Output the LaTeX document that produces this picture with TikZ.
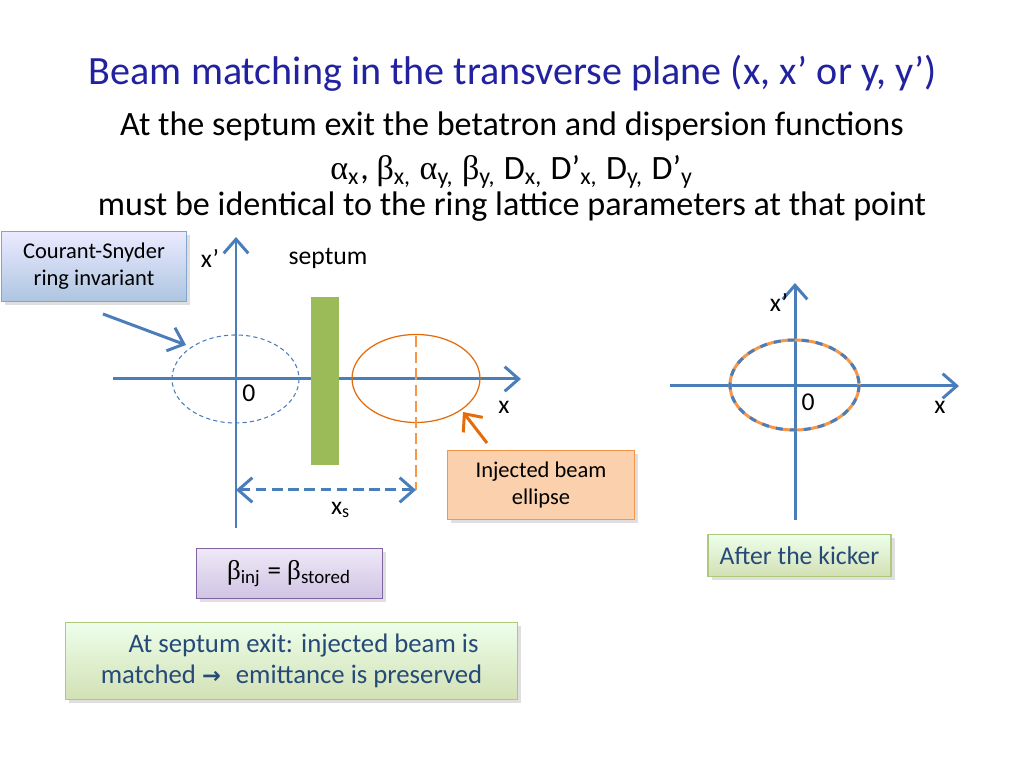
\documentclass[tikz,border=0pt]{standalone}
\usepackage{fontspec}
\setmainfont{Carlito}
\newfontfamily\grk{Liberation Serif}
\newfontfamily\symfnt{DejaVu Sans}
\usepackage{tikz}
\usetikzlibrary{arrows.meta}
\usetikzlibrary{shadows}

\definecolor{axisblue}{RGB}{74,126,187}
\definecolor{septgreen}{RGB}{155,187,89}
\definecolor{beamorange}{RGB}{228,108,10}
\definecolor{lightorange}{RGB}{247,150,70}
\definecolor{titleblue}{RGB}{34,34,160}
\definecolor{boxtext}{RGB}{38,74,120}
\definecolor{lilac}{RGB}{128,100,162}
\definecolor{lilactop}{RGB}{238,232,246}
\definecolor{lilacbot}{RGB}{208,196,228}

\newcommand{\titlesize}{\fontsize{11.4pt}{13pt}\selectfont}
\newcommand{\subsize}{\fontsize{9.7pt}{11pt}\selectfont}
\newcommand{\labsize}{\fontsize{7.3pt}{8.5pt}\selectfont}
\newcommand{\boxsize}{\fontsize{6.4pt}{7.7pt}\selectfont}
\newcommand{\sbs}[1]{\textsubscript{#1}}

\tikzset{
    axis/.style = {axisblue, line width=0.85pt, -{Straight Barb[length=4pt, width=7pt]}},
    pointer/.style = {line width=0.85pt, -{Straight Barb[length=4pt, width=7pt]}},
    infobox/.style = {draw, line width=0.3pt, align=center, drop shadow={shadow xshift=1pt, shadow yshift=-1pt, opacity=0.25}},
    greenbox/.style = {infobox, draw=septgreen!80, top color=yellow!10!green!8, bottom color=septgreen!45, text=boxtext},
    lab/.style = {font=\labsize, inner sep=0pt},
}

\begin{document}
\begin{tikzpicture}[x=0.01cm, y=-0.01cm]
    \useasboundingbox (0, 0) rectangle (1024, 768);
    \fill[white] (0, 0) rectangle (1024, 768);

    % heading
    \node[align=center, text=titleblue, font=\titlesize] (title) at (513, 73) {Beam matching in the transverse plane (x, x’ or y, y’)};
    \node[align=center, font=\subsize] (line1) at (512, 126) {At the septum exit the betatron and dispersion functions};
    \node[align=center, font=\subsize] (line2) at (512, 172) {{\grk α}\sbs{x}, {\grk β}\sbs{x,} {\grk α}\sbs{y,} {\grk β}\sbs{y,} D\sbs{x,} D’\sbs{x,} D\sbs{y,} D’\sbs{y}};
    \node[align=center, font=\subsize] (line3) at (512, 207) {must be identical to the ring lattice parameters at that point};

    % left phase space
    \coordinate (lx0) at (113, 379);
    \coordinate (lx1) at (521, 379);
    \coordinate (ly0) at (236, 528);
    \coordinate (ly1) at (236, 237);
    \draw[axis] (lx0) -- (lx1);
    \draw[axis] (ly0) -- (ly1);
    \draw[axisblue, line width=0.3pt, dash pattern=on 1.2pt off 0.9pt] (235.5, 379) ellipse [x radius=63.5, y radius=44];
    \fill[septgreen] (311, 297) rectangle (339, 465);
    \draw[beamorange, line width=0.35pt] (416, 378.5) ellipse [x radius=64, y radius=44];
    \coordinate (xs top) at (416, 336);
    \coordinate (xs foot) at (416, 490);
    \coordinate (x0 foot) at (236, 490);
    \draw[lightorange, line width=0.85pt, dash pattern=on 3.2pt off 1.4pt] (xs top) -- (xs foot);
    \draw[axisblue, line width=0.85pt, dash pattern=on 3pt off 1.6pt, {Straight Barb[length=4pt, width=7pt]}-{Straight Barb[length=4pt, width=7pt]}] (x0 foot) -- (xs foot);
    \node[lab] (lxp) at (210, 258) {x’};
    \node[lab] (septum) at (328, 258) {septum};
    \node[lab] (lzero) at (249, 393) {0};
    \node[lab] (lx) at (504, 407) {x};
    \node[lab] (xs) at (341, 510) {x\sbs{s}};

    % right phase space
    \coordinate (rx0) at (670, 386);
    \coordinate (rx1) at (959, 386);
    \coordinate (ry0) at (795, 520);
    \coordinate (ry1) at (795, 283);
    \draw[axis] (rx0) -- (rx1);
    \draw[axis] (ry0) -- (ry1);
    \draw[lightorange, line width=0.85pt] (794.5, 385) ellipse [x radius=64.5, y radius=45];
    \draw[axisblue, line width=0.85pt, dash pattern=on 2pt off 2pt] (794.5, 385) ellipse [x radius=64.5, y radius=45];
    \node[lab] (rxp) at (779, 302) {x’};
    \node[lab] (rzero) at (808, 402) {0};
    \node[lab] (rx) at (940, 407) {x};

    % boxes
    \node[infobox, draw=axisblue!70, top color=blue!8, bottom color=axisblue!45, minimum width=1.84cm, minimum height=0.67cm, font=\boxsize] (cs) at (94, 266.5) {Courant-Snyder\\ring invariant};
    \node[infobox, draw=lightorange, fill=lightorange!45, minimum width=1.86cm, minimum height=0.66cm, font=\boxsize] (inj) at (541, 485) {Injected beam\\ellipse};
    \node[greenbox, minimum width=1.81cm, minimum height=0.41cm, font=\labsize] (kick) at (799.5, 555.5) {After the kicker};
    \node[infobox, draw=lilac, top color=lilactop, bottom color=lilacbot, minimum width=1.85cm, minimum height=0.45cm, font=\fontsize{7.7pt}{9pt}\selectfont] (beta) at (289.5, 573.5) {{\grk β}\sbs{inj} = {\grk β}\sbs{stored}};
    \node[greenbox, minimum width=4.51cm, minimum height=0.72cm, font=\fontsize{7.6pt}{8.8pt}\selectfont] (match) at (291.5, 661) {\hspace*{0.24cm}At septum exit: injected beam is\\matched {\symfnt\bfseries\fontsize{6.4pt}{8pt}\selectfont →}\hspace{0.15cm}emittance is preserved};

    % pointers
    \coordinate (cs tail) at (103, 314);
    \coordinate (cs head) at (186, 345);
    \draw[pointer, axisblue] (cs tail) -- (cs head);
    \coordinate (inj tail) at (487, 443);
    \coordinate (inj head) at (463, 412);
    \draw[pointer, beamorange] (inj tail) -- (inj head);
\end{tikzpicture}
\end{document}
